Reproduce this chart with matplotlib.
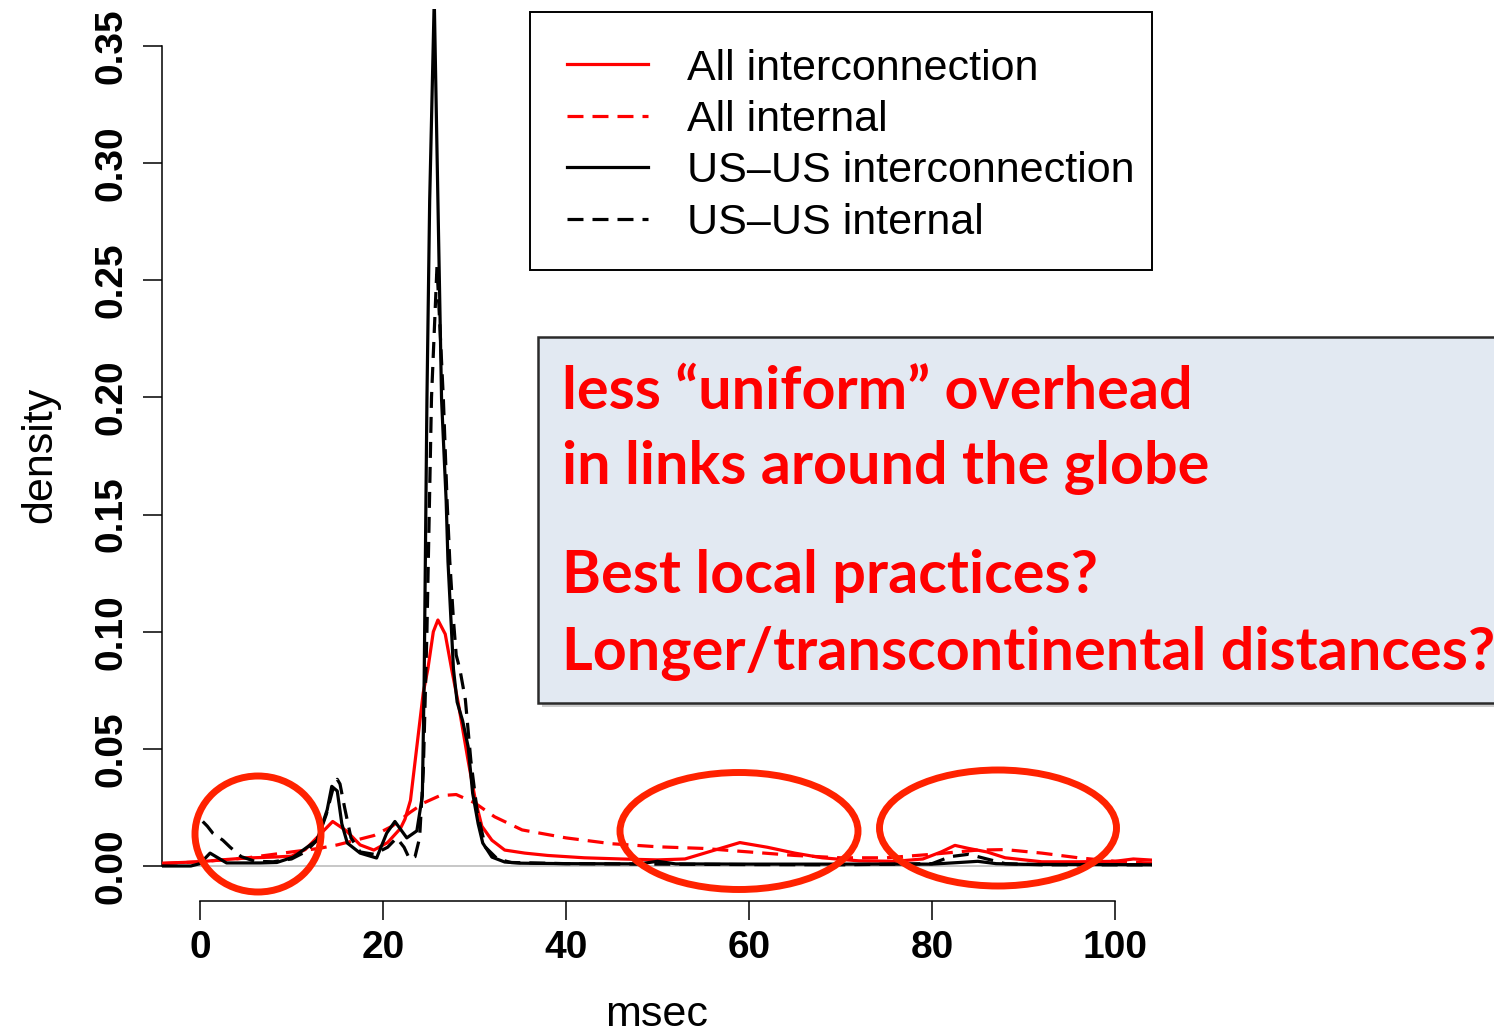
import matplotlib
matplotlib.use("Agg")
import matplotlib.pyplot as plt
from matplotlib.patches import Ellipse, Rectangle

plt.rcParams["lines.scale_dashes"] = False

# ---- density estimates (msec vs density) ----
all_ic_x = [-4.2, -2, 0, 2, 5, 8, 10, 11.5, 13, 14.5, 16, 17.5, 19, 20.5, 21.9, 22.4,
            23.0, 23.7, 24.4, 24.9, 25.5, 26.0, 26.8, 27.5, 28.2, 29.3, 30.1, 30.8,
            31.9, 33.3, 35.5, 38, 42, 46, 50, 53, 56, 59, 62, 65, 68, 72, 76, 79, 81,
            82.5, 84, 86, 88, 92, 96, 100, 102, 104.1]
all_ic_y = [0.0012, 0.0015, 0.0018, 0.0025, 0.0034, 0.0038, 0.0042, 0.007, 0.013, 0.019,
            0.015, 0.009, 0.0068, 0.010, 0.016, 0.020, 0.028, 0.051, 0.074, 0.084, 0.100,
            0.105, 0.099, 0.084, 0.070, 0.045, 0.028, 0.017, 0.011, 0.0068, 0.0055,
            0.0045, 0.0035, 0.003, 0.0026, 0.003, 0.0065, 0.010, 0.008, 0.0055, 0.0035,
            0.0022, 0.002, 0.003, 0.006, 0.0088, 0.0075, 0.006, 0.0035, 0.0018, 0.0018,
            0.002, 0.003, 0.0025]

all_int_x = [-4.2, 0, 5, 10, 13, 15, 17, 19, 21, 23, 24.5, 26.2, 28, 30, 32.2, 35.2, 40,
             45, 50, 55, 60, 65, 70, 75, 80, 85, 88, 92, 96, 100, 104.1]
all_int_y = [0.001, 0.0018, 0.0034, 0.006, 0.0075, 0.009, 0.011, 0.013, 0.017, 0.023,
             0.027, 0.030, 0.0305, 0.027, 0.021, 0.0154, 0.012, 0.0095, 0.0082, 0.0075,
             0.006, 0.0045, 0.0035, 0.0035, 0.005, 0.0068, 0.007, 0.0055, 0.0035, 0.002,
             0.0012]

us_ic_x = [-4.2, -1, 0, 1.1, 2.9, 6.6, 8.4, 10.2, 11.7, 12.8, 13.9, 14.4, 15.0, 15.5,
           16.1, 17.5, 19.3, 20.4, 21.3, 22.6, 23.7, 24.3, 24.5, 24.8, 25.1, 25.6, 26.0,
           26.4, 26.9, 27.1, 27.7, 28.1, 28.7, 29.3, 29.8, 30.4, 30.9, 31.9, 33.3, 35,
           40, 48, 50, 52, 60, 70, 80, 83, 85, 87, 90, 100, 104.1]
us_ic_y = [0.0, 0.0, 0.001, 0.0055, 0.0013, 0.0013, 0.0015, 0.0038, 0.008, 0.011, 0.024,
           0.034, 0.032, 0.018, 0.0098, 0.0055, 0.0034, 0.014, 0.019, 0.012, 0.015, 0.03,
           0.08, 0.199, 0.284, 0.37, 0.284, 0.199, 0.156, 0.13, 0.084, 0.070, 0.062,
           0.051, 0.031, 0.018, 0.0098, 0.0038, 0.0017, 0.0012, 0.001, 0.0009, 0.002,
           0.0009, 0.0008, 0.0008, 0.0008, 0.0015, 0.002, 0.001, 0.0007, 0.0006, 0.0005]

us_int_x = [0.3, 0.8, 1.4, 2.5, 3.3, 4.5, 6, 8, 10, 11.5, 12.8, 13.8, 14.6, 15.0, 15.3,
            15.8, 16.5, 17.5, 19, 20.5, 21.5, 22.3, 22.9, 23.5, 24.0, 24.4, 24.8, 25.3,
            25.9, 26.6, 27.0, 27.3, 27.7, 28.0, 28.4, 29.0, 29.6, 30.3, 31.2, 32.5, 34,
            40, 50, 60, 70, 80, 82, 84, 86, 88, 92, 100, 104.1]
us_int_y = [0.019, 0.017, 0.014, 0.011, 0.008, 0.004, 0.002, 0.0018, 0.003, 0.006, 0.011,
            0.022, 0.034, 0.037, 0.035, 0.025, 0.012, 0.006, 0.005, 0.008, 0.012, 0.008,
            0.003, 0.004, 0.012, 0.040, 0.10, 0.20, 0.256, 0.199, 0.156, 0.13, 0.105,
            0.09, 0.084, 0.071, 0.045, 0.023, 0.008, 0.003, 0.0015, 0.001, 0.0008,
            0.0006, 0.0005, 0.001, 0.004, 0.005, 0.003, 0.001, 0.0005, 0.0005, 0.0005]

series_labels = ["All interconnection", "All internal",
                 "US\u2013US interconnection", "US\u2013US internal"]
x_ticks = [0, 20, 40, 60, 80, 100]
y_ticks = [0.00, 0.05, 0.10, 0.15, 0.20, 0.25, 0.30, 0.35]
y_tick_labels = ["0.00", "0.05", "0.10", "0.15", "0.20", "0.25", "0.30", "0.35"]

notes = ["less \u201cuniform\u201d overhead",
         "in links around the globe",
         "Best local practices?",
         "Longer/transcontinental distances?"]

# ---- figure geometry in pixels ----
W, H = 1494, 1034
def fx(px):
    return px / W
def fy(py):
    return 1 - py / H

fig = plt.figure(figsize=(W / 100, H / 100), dpi=100)
ax = fig.add_axes([fx(162), fy(901), fx(1152) - fx(162), fy(9) - fy(901)])
ax.set_xlim(-4.153, 104.04)
ax.set_ylim(-0.01494, 0.36578)

RED = "#ff0000"
LW = 2.3
DASH = (0, (11.5, 6.5))

ax.axhline(0, color="#bebebe", lw=1.2, zorder=1)
h1, = ax.plot(all_ic_x, all_ic_y, color=RED, lw=LW, zorder=3)
h2, = ax.plot(all_int_x, all_int_y, color=RED, lw=LW, ls=DASH, zorder=3)
h3, = ax.plot(us_ic_x, us_ic_y, color="black", lw=LW, zorder=4)
h4, = ax.plot(us_int_x, us_int_y, color="black", lw=LW, ls=DASH, zorder=4)

# R-style axes
for s in ("top", "right"):
    ax.spines[s].set_visible(False)
ax.spines["left"].set_bounds(0, 0.35)
ax.spines["bottom"].set_bounds(0, 100)
for s in ("left", "bottom"):
    ax.spines[s].set_linewidth(1.1)
ax.set_xticks(x_ticks)
ax.set_xticklabels([str(t) for t in x_ticks])
ax.set_yticks(y_ticks)
ax.set_yticklabels(y_tick_labels, rotation=90, va="center")
ax.tick_params(direction="out", length=13.7, width=1.1)
ax.tick_params(axis="x", pad=7.5)
ax.tick_params(axis="y", pad=10)
for lab in ax.get_xticklabels() + ax.get_yticklabels():
    lab.set_fontfamily("Liberation Sans")
    lab.set_fontweight("bold")
    lab.set_fontsize(28)

ax.set_xlabel("msec", family="Liberation Sans", fontsize=31)
ax.set_ylabel("density", family="Liberation Sans", fontsize=31)
ax.xaxis.set_label_coords(0.5, -0.105)
ax.yaxis.set_label_coords(-0.103, 0.5)

# legend with its own frame
fig.add_artist(Rectangle((fx(530), fy(270)), fx(1152) - fx(530), fy(12) - fy(270),
                         transform=fig.transFigure, fill=False, ec="black", lw=1.4))
ax.legend([h1, h2, h3, h4], series_labels, loc="upper left",
          bbox_to_anchor=(fx(567), fy(48.5)), bbox_transform=fig.transFigure,
          frameon=False, borderpad=0, borderaxespad=0, handlelength=1.88,
          handletextpad=0.9, labelspacing=0.265,
          prop={"family": "Liberation Sans", "size": 31})

# callout box
bx0, by0, bx1, by1 = 538, 337, 1500, 703
fig.add_artist(Rectangle((fx(bx0 + 4), fy(by1 + 4)), fx(bx1) - fx(bx0), fy(by0) - fy(by1),
                         transform=fig.transFigure, fc="#9a9a9a", ec="none", alpha=0.5))
fig.add_artist(Rectangle((fx(bx0), fy(by1)), fx(bx1) - fx(bx0), fy(by0) - fy(by1),
                         transform=fig.transFigure, fc="#e2e9f2", ec="#2b2b2b", lw=1.8))
for txt, base in zip(notes, [409, 484, 593, 670]):
    fig.text(fx(562), fy(base), txt, color=RED, family="Lato", weight="bold",
             fontsize=42.7, ha="left", va="baseline")

# highlight rings
for cx, cy, w, h in [(258, 834, 126, 116), (739, 831, 238, 117), (998, 828, 237, 116)]:
    fig.add_artist(Ellipse((fx(cx), fy(cy)), w / W, h / H, transform=fig.transFigure,
                           fill=False, ec="#ff2200", lw=5))

fig.savefig("out.png", dpi=100)
